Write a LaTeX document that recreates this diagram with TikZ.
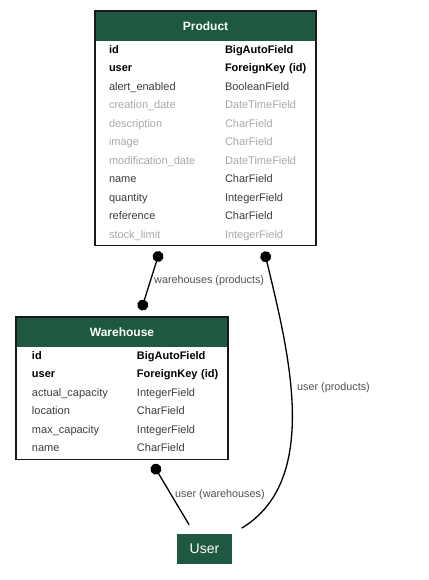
\documentclass[tikz,border=0pt]{standalone}
\usepackage{fontspec}
\setmainfont{Liberation Sans}
\usepackage{xcolor}
\usetikzlibrary{matrix,positioning,arrows.meta}

\definecolor{hdgreen}{RGB}{30,88,64}
\definecolor{fieldgray}{RGB}{60,60,60}
\definecolor{fadegray}{RGB}{168,168,168}
\definecolor{labelgray}{RGB}{80,80,80}

\tikzset{
  header/.style={fill=hdgreen, text=white, inner sep=0pt, outer sep=0pt, minimum height=30pt, font=\fontsize{12}{14}\selectfont\bfseries},
  fields/.style={matrix of nodes, inner xsep=0pt, inner ysep=0.8pt, outer sep=0pt, row sep=0pt, column sep=0pt,
    nodes={inner sep=0pt, minimum height=18.45pt, text height=8pt, text depth=3pt, align=left, text=fieldgray, font=\fontsize{11}{13}\selectfont}},
  key/.style={text=black, font=\fontsize{11}{13}\selectfont\bfseries},
  faded/.style={text=fadegray},
  frame/.style={draw=black!90, line width=1.2pt},
  relend/.style={line width=1.3pt, {Circle[length=11pt]}-},
  relation/.style={line width=1.3pt, {Circle[length=11pt]}-{Circle[length=11pt]}},
  rellabel/.style={anchor=west, inner sep=0pt, text=labelgray, font=\fontsize{10.8}{13}\selectfont},
}

\begin{document}
\begin{tikzpicture}[x=1pt, y=-1pt]
\useasboundingbox (0,0) rectangle (428,580);

% Product
\node[header, minimum width=221pt] (product) at (205.5,26) {Product};
\matrix[fields, below=0pt of product,
  column 1/.style={nodes={inner xsep=14pt, text width=102pt}}, column 2/.style={nodes={text width=91pt}}] (productfields) {
 |[key]| id & |[key]| BigAutoField \\
 |[key]| user & |[key]| ForeignKey (id) \\
 alert\_enabled & BooleanField \\
 |[faded]| creation\_date & |[faded]| DateTimeField \\
 |[faded]| description & |[faded]| CharField \\
 |[faded]| image & |[faded]| CharField \\
 |[faded]| modification\_date & |[faded]| DateTimeField \\
 name & CharField \\
 quantity & IntegerField \\
 reference & CharField \\
 |[faded]| stock\_limit & |[faded]| IntegerField \\
};
\draw[frame] (product.north west) rectangle (productfields.south east);

% Warehouse
\node[header, minimum width=212pt] (warehouse) at (122,332) {Warehouse};
\matrix[fields, below=0pt of warehouse,
  column 1/.style={nodes={inner xsep=16pt, text width=89pt}}, column 2/.style={nodes={text width=91pt}}] (warehousefields) {
 |[key]| id & |[key]| BigAutoField \\
 |[key]| user & |[key]| ForeignKey (id) \\
 actual\_capacity & IntegerField \\
 location & CharField \\
 max\_capacity & IntegerField \\
 name & CharField \\
};
\draw[frame] (warehouse.north west) rectangle (warehousefields.south east);

% User
\node[fill=hdgreen, text=white, minimum width=55pt, minimum height=30pt, inner sep=0pt, font=\fontsize{14}{16}\selectfont] (user) at (204.5,549) {User};

% relations
\draw[relation, shorten <=6pt, shorten >=7pt] ([xshift=-44pt]productfields.south) -- ([xshift=17pt]warehouse.north);
\node[rellabel] (lblwp) at (154,281) {warehouses (products)};
\draw[relend, shorten <=6pt, shorten >=11pt] ([xshift=57.5pt]productfields.south)
  .. controls (288,350) and (322,480) .. (user.north east);
\node[rellabel] (lblup) at (297,388) {user (products)};
\draw[relend, shorten <=6pt, shorten >=10.5pt] ([xshift=28pt]warehousefields.south) -- ([xshift=-10pt]user.north);
\node[rellabel] (lbluw) at (175,495) {user (warehouses)};
\end{tikzpicture}
\end{document}
